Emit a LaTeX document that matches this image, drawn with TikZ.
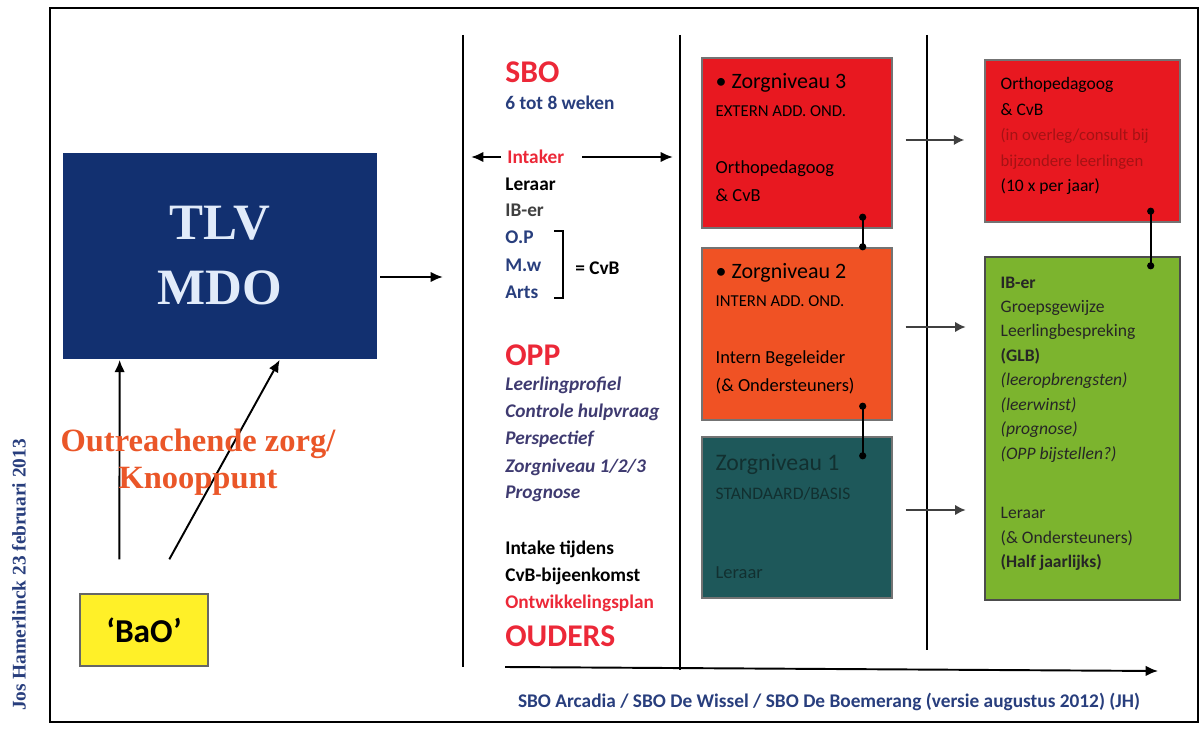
\documentclass[tikz,border=0pt]{standalone}
\usepackage{fontspec}
\setmainfont{Carlito}
\newfontfamily\titlefont{Liberation Serif}
\usepackage{xcolor}
\usetikzlibrary{arrows.meta,calc,positioning}

\definecolor{tlvblue}{RGB}{18,48,112}
\definecolor{tlvtext}{RGB}{225,235,250}
\definecolor{zred}{RGB}{232,24,32}
\definecolor{zorange}{RGB}{240,82,36}
\definecolor{zteal}{RGB}{30,88,90}
\definecolor{zgreen}{RGB}{124,180,46}
\definecolor{baoyellow}{RGB}{255,240,40}
\definecolor{txtblue}{RGB}{40,62,125}
\definecolor{txtred}{RGB}{236,40,56}
\definecolor{oppblue}{RGB}{62,58,112}
\definecolor{outorange}{RGB}{234,86,40}
\definecolor{tealtext}{RGB}{18,48,48}
\definecolor{darkred}{RGB}{165,18,20}

\begin{document}
\begin{tikzpicture}[x=0.02cm,y=-0.02cm,
    zbox/.style={rectangle,draw=black!55,line width=0.8pt,minimum width=3.8cm},
    boxtext/.style={anchor=north west,align=left,inner sep=0pt,
                    font=\fontsize{10.5}{16}\selectfont},
    midtext/.style={anchor=west,inner sep=0pt,font=\bfseries\fontsize{11}{13}\selectfont},
    bigtext/.style={anchor=west,inner sep=0pt,text=txtred,
                    font=\bfseries\fontsize{18}{20}\selectfont},
    arrow/.style={line width=1.3pt,-{Latex[length=7pt,width=6pt]}},
    linkarrow/.style={line width=1.3pt,draw=black!75,-{Latex[length=6pt,width=6pt]}},
    dotlink/.style={line width=1.3pt,{Circle[length=4pt]}-{Circle[length=4pt]}}]

\useasboundingbox (0,0) rectangle (1200,729);
\draw[line width=1pt] (50,8) rectangle (1198,722);

% column lines
\draw[line width=1.3pt] (463,35) -- (463,667);
\draw[line width=1.3pt] (680,35) -- (680,670);
\draw[line width=1.3pt] (927,35) -- (927,650);

% left part
\node[rectangle,fill=tlvblue,minimum width=6.28cm,minimum height=4.14cm,
      align=center,text=tlvtext,font=\titlefont\bfseries\fontsize{29}{37}\selectfont]
      (tlv) at (220,256) {TLV\\MDO};
\node[rectangle,fill=baoyellow,draw=black!60,line width=0.8pt,minimum width=2.56cm,
      minimum height=1.44cm,font=\bfseries\fontsize{19}{21}\selectfont] (bao) at (144,630) {‘BaO’};

\coordinate (tlvout) at (443,277);
\draw[arrow] ($(tlv.east)+(3,21)$) -- (tlvout);
\draw[arrow,line width=1.1pt] ($(bao.north west)+(40,-34)$) -- ($(tlv.south west)+(57,0)$);
\draw[arrow,line width=1.1pt] ($(bao.north west)+(90,-34)$) -- ($(tlv.south west)+(217,0)$);

\node[text=outorange,align=center,font=\titlefont\bfseries\fontsize{18.5}{21}\selectfont]
      (outreach) at (198,462) {Outreachende zorg/\\Knooppunt};

\node[rotate=90,text=txtblue,font=\titlefont\bfseries\fontsize{11}{13}\selectfont]
      (auteur) at (19,575) {Jos Hamerlinck 23 februari 2013};

% middle column
\node[bigtext] (sbo) at (505,72) {SBO};
\node[midtext,text=txtblue] (duur) at (505,103) {6 tot 8 weken};
\node[midtext,text=txtred] (intaker) at (507,157) {Intaker};
\coordinate (inleft) at (471,157);
\coordinate (inright) at (673,157);
\draw[arrow] ($(intaker.west)+(-6,0)$) -- (inleft);
\draw[arrow] ($(intaker.east)+(18,0)$) -- (inright);

\foreach \t/\y/\c in {Leraar/184/black, IB-er/210/black!75, O.P/237/txtblue,
                      M.w/265/txtblue, Arts/292/txtblue}
   \node[midtext,text=\c] (cast\y) at (505,\y) {\t};
\draw[line width=1.5pt] (554,231) -- (563,231) -- (563,298) -- (554,298);
\node[midtext] (cvb) at (575,268) {= CvB};

\node[bigtext] (opp) at (505,355) {OPP};
\foreach \t/\y in {Leerlingprofiel/385, Controle hulpvraag/412, Perspectief/439,
                   Zorgniveau 1\slash 2\slash 3/467, Prognose/494}
   \node[midtext,text=oppblue,font=\bfseries\itshape\fontsize{11}{13}\selectfont] (opp\y) at (505,\y) {\t};

\node[midtext] (intake) at (505,549) {Intake tijdens};
\node[midtext] (bijeen) at (505,576) {CvB-bijeenkomst};
\node[midtext,text=txtred] (ontw) at (505,603) {Ontwikkelingsplan};
\node[bigtext] (ouders) at (505,636) {OUDERS};

% zorgniveaus
\node[zbox,fill=zred,minimum height=3.4cm] (z3) at (797,143) {};
\node[zbox,fill=zorange,minimum height=3.44cm] (z2) at (797,334) {};
\node[zbox,fill=zteal,minimum height=3.22cm] (z1) at (797,517.5) {};

\node[boxtext] (z3t) at ($(z3.north west)+(14,16)$)
   {{\fontsize{12.5}{16}\selectfont • Zorgniveau 3}\\
    {\fontsize{9.5}{16}\selectfont EXTERN ADD.\ OND.}\\[16pt]
    Orthopedagoog\\ \& CvB};
\node[boxtext] (z2t) at ($(z2.north west)+(14,16)$)
   {{\fontsize{12.5}{16}\selectfont • Zorgniveau 2}\\
    {\fontsize{9.5}{16}\selectfont INTERN ADD.\ OND.}\\[16pt]
    Intern Begeleider\\ (\& Ondersteuners)};
\node[boxtext,text=tealtext] (z1t) at ($(z1.north west)+(14,18)$)
   {{\fontsize{13.5}{16}\selectfont Zorgniveau 1}\\
    {\fontsize{10}{16}\selectfont STANDAARD/BASIS}\\[29pt]
    Leraar};

\draw[dotlink] ($(z3.south east)+(-30,-15)$) -- ($(z2.north east)+(-30,3)$);
\draw[dotlink] ($(z2.south east)+(-30,-18)$) -- ($(z1.north east)+(-30,23)$);

% rechter kolom
\node[zbox,fill=zred,minimum width=3.9cm,minimum height=3.24cm] (ortho) at (1082.5,141) {};
\node[zbox,fill=zgreen,draw=black!70,minimum width=3.9cm,minimum height=6.86cm] (glb) at (1082.5,428.5) {};

\node[boxtext,font=\fontsize{10}{14.5}\selectfont] (orthot) at ($(ortho.north west)+(16,18)$)
   {Orthopedagoog\\ \& CvB\\
    {\fontsize{9.5}{14.5}\selectfont\textcolor{darkred}{(in overleg/consult bij}}\\
    {\fontsize{9.5}{14.5}\selectfont\textcolor{darkred}{bijzondere leerlingen}}\\
    (10 x per jaar)};
\node[boxtext,font=\fontsize{10}{13.9}\selectfont,text=black!85] (glbt) at ($(glb.north west)+(16,20)$)
   {\textbf{IB-er}\\ Groepsgewijze\\ Leerlingbespreking\\ \textbf{(GLB)}\\
    \textit{(leeropbrengsten)}\\ \textit{(leerwinst)}\\ \textit{(prognose)}\\
    \textit{(OPP bijstellen?)}\\[20pt]
    Leraar\\ (\& Ondersteuners)\\ \textbf{(Half jaarlijks)}};

\draw[dotlink] ($(ortho.south east)+(-30,-15)$) -- ($(glb.north east)+(-30,13)$);

\draw[linkarrow] ($(z3.east)+(13,-3)$) -- ($(ortho.west)+(-20,-1)$);
\draw[linkarrow] ($(z2.east)+(13,-7)$) -- ++(60,0);
\draw[linkarrow] ($(z1.east)+(13,-7.5)$) -- ++(60,0);

% tijdlijn
\coordinate (tstart) at (505,667);
\coordinate (tend) at (1158,671);
\draw[arrow,line width=1.1pt] (tstart) -- (tend);
\node[text=txtblue,font=\bfseries\fontsize{11}{13}\selectfont] (scholen) at (829,702)
   {SBO Arcadia / SBO De Wissel / SBO De Boemerang (versie augustus 2012) (JH)};

\end{tikzpicture}
\end{document}
